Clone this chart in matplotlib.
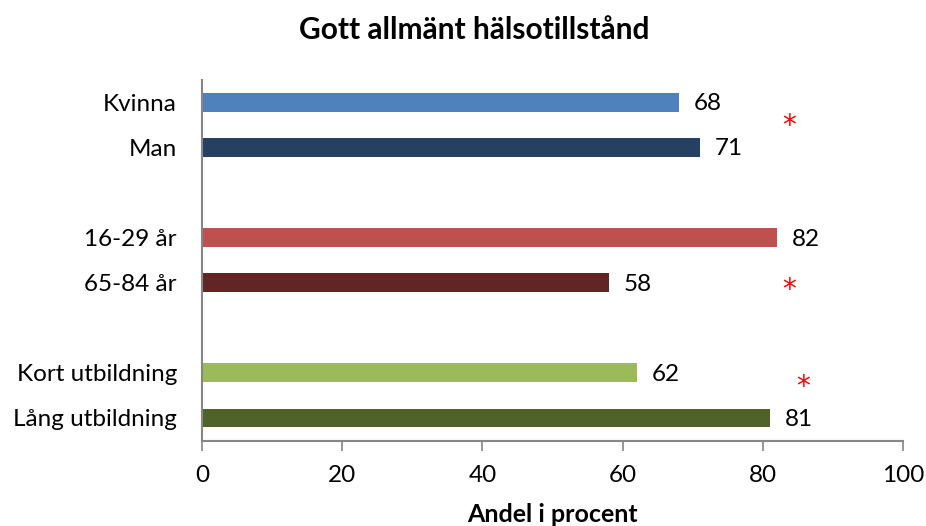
import matplotlib
matplotlib.use("Agg")
import matplotlib.pyplot as plt

categories = ["Kvinna", "Man", "16-29 år", "65-84 år", "Kort utbildning", "Lång utbildning"]
values = [68, 71, 82, 58, 62, 81]
slots = [0, 1, 3, 4, 6, 7]
colors = ["#4F81BD", "#254061", "#C0504D", "#632523", "#9BBB59", "#4F6228"]
xticks = [0, 20, 40, 60, 80, 100]
# significance asterisks: (x, y-slot)
stars_x = [83.7, 83.7, 85.7]
stars_y = [0.4, 4.05, 6.2]

plt.rcParams['font.family'] = ['Lato', 'DejaVu Sans']

fig = plt.figure(figsize=(9.26, 5.26), dpi=100)
ax = fig.add_axes([202/926, 1-440.5/526, (903-202)/926, (440.5-80)/526])

ax.barh(slots, values, height=0.42, color=colors)
for s, v in zip(slots, values):
    ax.text(v + 2.1, s + 0.03, f"{v}", va="center", ha="left", fontsize=17.5, color="black")
for x, y in zip(stars_x, stars_y):
    ax.text(x, y + 0.12, "*", color="red", fontsize=20, ha="center", va="center",
            family="DejaVu Sans")

ax.set_xlim(0, 100)
ax.set_ylim(7.5, -0.5)
ax.set_xticks(xticks)
ax.set_xticklabels([str(t) for t in xticks], fontsize=17.5)
ax.set_yticks(slots)
ax.set_yticklabels(categories, fontsize=17.5)
ax.tick_params(axis="y", length=0, pad=18)
ax.tick_params(axis="x", length=7, width=1.2, color="#868686", pad=11)
for side in ["top", "right"]:
    ax.spines[side].set_visible(False)
for side in ["left", "bottom"]:
    ax.spines[side].set_color("#868686")
    ax.spines[side].set_linewidth(1.5)

ax.set_xlabel("Andel i procent", fontsize=18, fontweight="bold", labelpad=12)
fig.text(474/926, 1-30/526, "Gott allmänt hälsotillstånd", fontsize=21.5, fontweight="bold",
         ha="center", va="center")

fig.savefig("out.png", dpi=100)
